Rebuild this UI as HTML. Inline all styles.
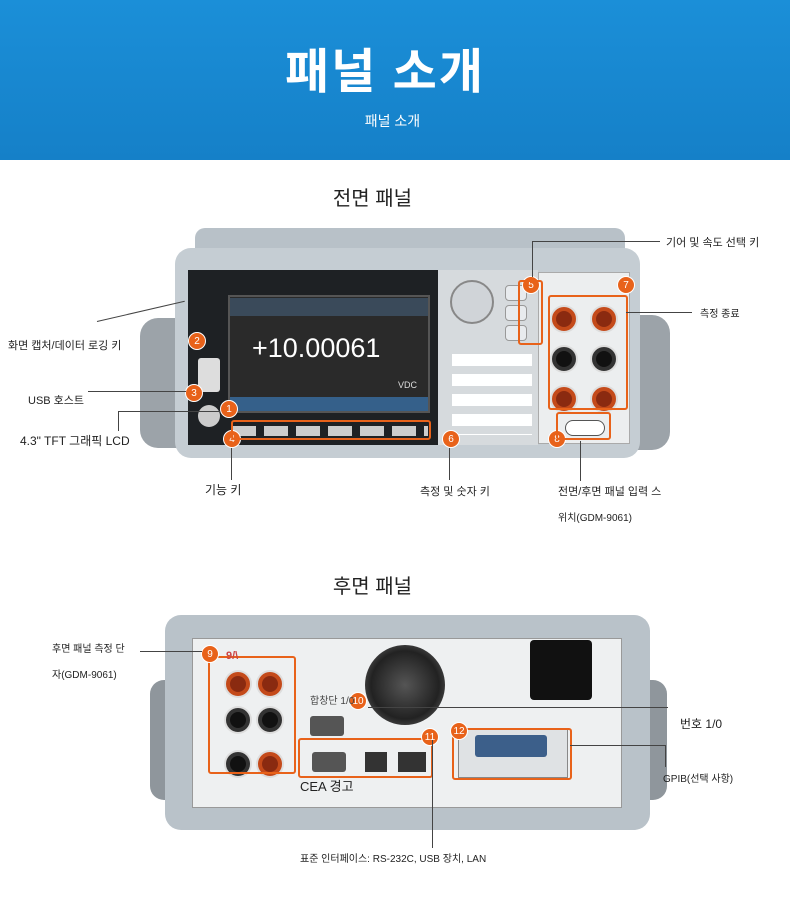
<!DOCTYPE html>
<html><head><meta charset="utf-8"><style>
*{margin:0;padding:0;box-sizing:border-box}
body{width:790px;height:899px;position:relative;background:#fff;font-family:"Liberation Sans","Noto Sans CJK KR",sans-serif;overflow:hidden;color:#222}
.a{position:absolute}
.t{position:absolute;font-size:11px;white-space:nowrap;color:#222}
.c{position:absolute;width:18px;height:18px;border-radius:50%;background:#e8621a;color:#fff;font-size:10px;text-align:center;line-height:18px;border:1px solid #fff}
.ln{position:absolute;background:#444}
.jack{position:absolute;width:24px;height:24px;border-radius:50%;background:#8a2a10;border:4px solid #c44a1a;box-shadow:0 0 0 2px #ddd}
.jk{position:absolute;width:24px;height:24px;border-radius:50%;background:#111;border:4px solid #333;box-shadow:0 0 0 2px #ddd}
.btn{position:absolute;background:#e8ebee;border-radius:4px;border:1px solid #999}
</style></head><body>
<div class="a" style="left:0;top:0;width:790px;height:160px;background:linear-gradient(#1b8fd8,#1580c8)"></div>
<div class="a" style="left:0;top:32px;width:770px;text-align:center;color:#fff;font-size:48px;font-weight:bold;letter-spacing:2px">패널 소개</div>
<div class="a" style="left:0;top:111px;width:785px;text-align:center;color:#fff;font-size:14px">패널 소개</div>

<div class="a" style="left:0;top:182px;width:745px;text-align:center;font-size:20px">전면 패널</div>

<!-- front device -->
<div class="a" style="left:140px;top:318px;width:45px;height:130px;background:#9ca3a9;border-radius:18px 0 0 18px"></div>
<div class="a" style="left:630px;top:315px;width:40px;height:135px;background:#9ca3a9;border-radius:0 18px 18px 0"></div>
<div class="a" style="left:195px;top:228px;width:430px;height:30px;background:#b8c1c8;border-radius:10px 10px 0 0"></div>
<div class="a" style="left:175px;top:248px;width:465px;height:210px;background:#c5cdd3;border-radius:16px"></div>
<div class="a" style="left:188px;top:270px;width:250px;height:175px;background:#1e2124"></div>
<div class="a" style="left:438px;top:270px;width:100px;height:175px;background:#d6dadd"></div>
<div class="a" style="left:538px;top:272px;width:92px;height:172px;background:#eceeef;border:1px solid #aaa"></div>
<div class="a" style="left:228px;top:295px;width:202px;height:118px;background:#2a2a2a;border:2px solid #555"></div>
<div class="a" style="left:230px;top:298px;width:198px;height:18px;background:#3a4a5a"></div>
<div class="t" style="left:252px;top:333px;color:#fff;font-size:27px">+10.00061</div>
<div class="t" style="left:398px;top:380px;color:#ddd;font-size:9px">VDC</div>
<div class="a" style="left:230px;top:397px;width:198px;height:14px;background:#35608a"></div>
<div class="a" style="left:232px;top:426px;width:196px;height:10px;background:repeating-linear-gradient(90deg,#ccc 0 24px,transparent 24px 32px)"></div>
<div class="a" style="left:198px;top:358px;width:22px;height:34px;background:#ddd;border-radius:3px"></div>
<div class="a" style="left:198px;top:405px;width:22px;height:22px;background:#ccc;border-radius:50%"></div>
<div class="a" style="left:450px;top:280px;width:44px;height:44px;background:#d0d4d8;border-radius:50%;border:2px solid #888"></div>
<div class="btn" style="left:505px;top:285px;width:22px;height:16px"></div>
<div class="btn" style="left:505px;top:305px;width:22px;height:16px"></div>
<div class="btn" style="left:505px;top:325px;width:22px;height:16px"></div>
<div class="a" style="left:452px;top:350px;width:80px;height:85px;background:repeating-linear-gradient(#d6dadd 0 4px,#fff 4px 16px,#d6dadd 16px 20px)"></div>
<div class="jack" style="left:552px;top:307px"></div><div class="jack" style="left:592px;top:307px"></div>
<div class="jk" style="left:552px;top:347px"></div><div class="jk" style="left:592px;top:347px"></div>
<div class="jack" style="left:552px;top:387px"></div><div class="jack" style="left:592px;top:387px"></div>
<div class="a" style="left:565px;top:420px;width:40px;height:16px;border:1px solid #555;border-radius:8px;background:#fff"></div>
<div class="c" style="left:522px;top:276px">5</div><div class="c" style="left:617px;top:276px">7</div>
<div class="c" style="left:188px;top:332px">2</div><div class="c" style="left:185px;top:384px">3</div>
<div class="c" style="left:220px;top:400px">1</div><div class="c" style="left:223px;top:430px">4</div>
<div class="c" style="left:442px;top:430px">6</div><div class="c" style="left:548px;top:430px">8</div>
<div class="a" style="left:231px;top:420px;width:200px;height:20px;border:2px solid #e8621a;border-radius:3px"></div>
<div class="a" style="left:518px;top:280px;width:25px;height:65px;border:2px solid #e8621a;border-radius:3px"></div>
<div class="a" style="left:548px;top:295px;width:80px;height:115px;border:2px solid #e8621a;border-radius:3px"></div>
<div class="a" style="left:556px;top:412px;width:55px;height:28px;border:2px solid #e8621a;border-radius:3px"></div>

<div class="ln" style="left:532px;top:241px;width:128px;height:1px"></div><div class="ln" style="left:532px;top:241px;width:1px;height:36px"></div>
<div class="t" style="left:666px;top:234px">기어 및 속도 선택 키</div>
<div class="ln" style="left:626px;top:312px;width:66px;height:1px"></div>
<div class="t" style="left:700px;top:305px;font-size:10px">측정 종료</div>
<div class="ln" style="left:97px;top:321px;width:90px;height:1px;transform:rotate(-13deg);transform-origin:left"></div>
<div class="t" style="left:8px;top:337px">화면 캡처/데이터 로깅 키</div>
<div class="ln" style="left:88px;top:391px;width:98px;height:1px"></div>
<div class="t" style="left:28px;top:392px">USB 호스트</div>
<div class="ln" style="left:118px;top:411px;width:102px;height:1px"></div><div class="ln" style="left:118px;top:411px;width:1px;height:20px"></div>
<div class="t" style="left:20px;top:432px;font-size:12px">4.3" TFT 그래픽 LCD</div>
<div class="ln" style="left:231px;top:448px;width:1px;height:32px"></div>
<div class="t" style="left:205px;top:481px;font-size:12px">기능 키</div>
<div class="ln" style="left:449px;top:448px;width:1px;height:32px"></div>
<div class="t" style="left:420px;top:483px">측정 및 숫자 키</div>
<div class="ln" style="left:580px;top:441px;width:1px;height:40px"></div>
<div class="t" style="left:558px;top:483px">전면/후면 패널 입력 스</div>
<div class="t" style="left:558px;top:509px;font-size:10px">위치(GDM-9061)</div>

<div class="a" style="left:0;top:570px;width:745px;text-align:center;font-size:20px">후면 패널</div>

<!-- rear -->
<div class="a" style="left:150px;top:680px;width:35px;height:120px;background:#8f969c;border-radius:14px 0 0 14px"></div>
<div class="a" style="left:632px;top:680px;width:35px;height:120px;background:#8f969c;border-radius:0 14px 14px 0"></div>
<div class="a" style="left:165px;top:615px;width:485px;height:215px;background:#b9c2c9;border-radius:16px"></div>
<div class="a" style="left:192px;top:638px;width:430px;height:170px;background:#eef0f1;border:1px solid #999"></div>
<div class="a" style="left:365px;top:645px;width:80px;height:80px;border-radius:50%;background:radial-gradient(#555,#222 60%,#777)"></div>
<div class="a" style="left:530px;top:640px;width:62px;height:60px;background:#111;border-radius:4px"></div>
<div class="a" style="left:458px;top:728px;width:110px;height:50px;border:1px solid #888;background:#dfe2e4"></div>
<div class="a" style="left:475px;top:735px;width:72px;height:22px;background:#3c5f8a;border-radius:3px"></div>
<div class="a" style="left:310px;top:716px;width:34px;height:20px;background:#555;border-radius:3px"></div>
<div class="a" style="left:312px;top:752px;width:34px;height:20px;background:#555;border-radius:3px"></div>
<div class="a" style="left:365px;top:752px;width:22px;height:20px;background:#333"></div>
<div class="a" style="left:398px;top:752px;width:28px;height:20px;background:#333"></div>
<div class="jack" style="left:226px;top:672px"></div><div class="jack" style="left:258px;top:672px"></div>
<div class="jk" style="left:226px;top:708px"></div><div class="jk" style="left:258px;top:708px"></div>
<div class="jk" style="left:226px;top:752px"></div><div class="jack" style="left:258px;top:752px"></div>
<div class="a" style="left:208px;top:656px;width:88px;height:118px;border:2px solid #e8621a;border-radius:3px"></div>
<div class="a" style="left:298px;top:738px;width:135px;height:40px;border:2px solid #e8621a;border-radius:3px"></div>
<div class="a" style="left:452px;top:728px;width:120px;height:52px;border:2px solid #e8621a;border-radius:3px"></div>
<div class="c" style="left:201px;top:645px">9</div><div class="c" style="left:349px;top:692px">10</div>
<div class="c" style="left:421px;top:728px">11</div><div class="c" style="left:450px;top:722px">12</div>
<div class="t" style="left:226px;top:650px;color:#c44;font-size:11px;font-weight:bold">9/\</div>
<div class="t" style="left:310px;top:692px;font-size:10px;color:#444">합창단 1/0</div>
<div class="t" style="left:300px;top:776px;font-size:13px">CEA 경고</div>
<div class="ln" style="left:140px;top:651px;width:62px;height:1px"></div>
<div class="t" style="left:52px;top:640px;font-size:10px">후면 패널 측정 단</div>
<div class="t" style="left:52px;top:666px;font-size:10px">자(GDM-9061)</div>
<div class="ln" style="left:368px;top:707px;width:300px;height:1px"></div>
<div class="t" style="left:680px;top:715px;font-size:12px">번호 1/0</div>
<div class="ln" style="left:570px;top:745px;width:95px;height:1px"></div><div class="ln" style="left:665px;top:745px;width:1px;height:22px"></div>
<div class="t" style="left:663px;top:770px;font-size:10px">GPIB(선택 사항)</div>
<div class="ln" style="left:432px;top:740px;width:1px;height:108px"></div>
<div class="t" style="left:300px;top:850px;font-size:10px">표준 인터페이스: RS-232C, USB 장치, LAN</div>
</body></html>
